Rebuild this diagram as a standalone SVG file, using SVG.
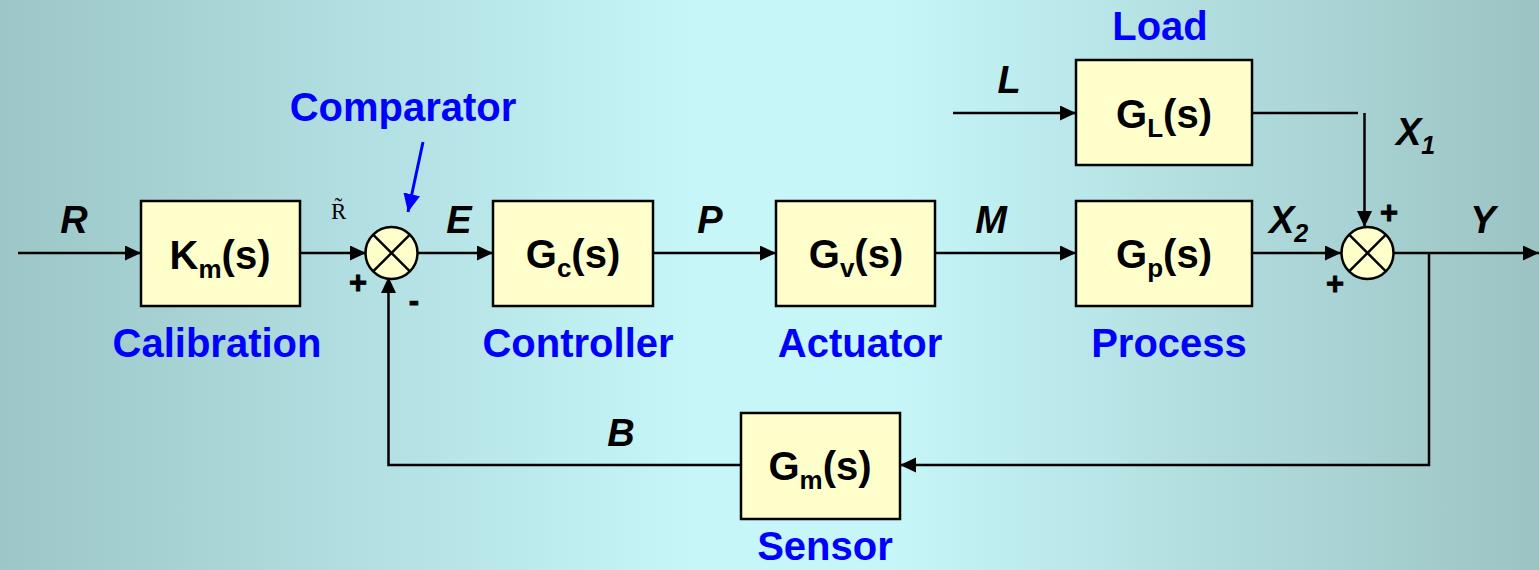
<svg xmlns="http://www.w3.org/2000/svg" width="1539" height="570" viewBox="0 0 1539 570">
<defs>
<linearGradient id="bg" x1="0" y1="0" x2="1" y2="0">
<stop offset="0" stop-color="#9cc6c8"/>
<stop offset="0.45" stop-color="#c6f6f8"/>
<stop offset="0.58" stop-color="#c6f6f8"/>
<stop offset="1" stop-color="#9cc3c4"/>
</linearGradient>
<marker id="ah" markerUnits="userSpaceOnUse" markerWidth="18" markerHeight="16" refX="16" refY="7.5" orient="auto">
<path d="M0,0 L16,7.5 L0,15 Z" fill="#000"/>
</marker>
<marker id="ahb" markerUnits="userSpaceOnUse" markerWidth="20" markerHeight="18" refX="18" refY="8.5" orient="auto">
<path d="M0,0 L18,8.5 L0,17 Z" fill="#0000ff"/>
</marker>
<style>
.box{fill:#ffffcc;stroke:#000;stroke-width:2.5}
.sum{fill:#ffffcc;stroke:#000;stroke-width:2.5}
.x{stroke:#000;stroke-width:2.5}
.ln{fill:none;stroke:#000;stroke-width:2.5}
.arr{marker-end:url(#ah)}
.bt{font-family:"Liberation Sans",Arial,sans-serif;font-weight:bold;font-size:40px;fill:#000;text-anchor:middle}
.sub{font-size:26px}
.lab{font-family:"Liberation Sans",Arial,sans-serif;font-weight:bold;font-size:40px;fill:#0000ff;text-anchor:middle}
.sig{font-family:"Liberation Sans",Arial,sans-serif;font-weight:bold;font-style:italic;font-size:38px;fill:#000}
.sig2{font-size:25px}
.pm{font-family:"Liberation Sans",Arial,sans-serif;font-weight:bold;font-size:31px;fill:#000;text-anchor:middle;stroke:#000;stroke-width:0.8}
.rt{font-family:"Liberation Serif","Times New Roman",serif;font-size:23px;fill:#000}
</style>
</defs>
<rect x="0" y="0" width="1539" height="570" fill="url(#bg)"/>

<g id="connectors">
<line class="ln arr" x1="18" y1="253" x2="141" y2="253"/>
<line class="ln arr" x1="300" y1="253" x2="366" y2="253"/>
<line class="ln arr" x1="418" y1="253" x2="493" y2="253"/>
<line class="ln arr" x1="653" y1="253" x2="776" y2="253"/>
<line class="ln arr" x1="935" y1="253" x2="1076" y2="253"/>
<line class="ln arr" x1="1252" y1="253" x2="1341" y2="253"/>
<line class="ln arr" x1="1394" y1="253" x2="1539" y2="253"/>
<line class="ln arr" x1="953" y1="113" x2="1076" y2="113"/>
<line class="ln" x1="1252" y1="113" x2="1358" y2="113"/>
<line class="ln arr" x1="1364.5" y1="113" x2="1364.5" y2="227"/>
<path class="ln arr" d="M1429,253 L1429,465 L900,465"/>
<path class="ln arr" d="M741,465 L388.5,465 L388.5,277"/>
<line stroke="#0000ff" stroke-width="3" marker-end="url(#ahb)" x1="423" y1="142" x2="408" y2="212"/>
</g>

<g id="calibration">
<rect class="box" x="141" y="201" width="159" height="105"/>
<text class="bt" x="220" y="269">K<tspan class="sub" dy="9">m</tspan><tspan dy="-9">(s)</tspan></text>
<text class="lab" x="217" y="357">Calibration</text>
</g>

<g id="comparator">
<circle class="sum" cx="391.5" cy="253" r="26"/>
<line class="x" x1="373.1" y1="234.6" x2="409.9" y2="271.4"/>
<line class="x" x1="409.9" y1="234.6" x2="373.1" y2="271.4"/>
<text class="lab" x="403" y="121">Comparator</text>
<text class="pm" x="358" y="293">+</text>
<text class="pm" x="414" y="311" font-size="34">-</text>
</g>

<g id="controller">
<rect class="box" x="493" y="201" width="160" height="105"/>
<text class="bt" x="573" y="268">G<tspan class="sub" dy="9">c</tspan><tspan dy="-9">(s)</tspan></text>
<text class="lab" x="578" y="357">Controller</text>
</g>

<g id="actuator">
<rect class="box" x="776" y="201" width="159" height="105"/>
<text class="bt" x="856" y="268">G<tspan class="sub" dy="9">v</tspan><tspan dy="-9">(s)</tspan></text>
<text class="lab" x="860" y="357">Actuator</text>
</g>

<g id="process">
<rect class="box" x="1076" y="201" width="176" height="105"/>
<text class="bt" x="1164" y="268">G<tspan class="sub" dy="9">p</tspan><tspan dy="-9">(s)</tspan></text>
<text class="lab" x="1169" y="357">Process</text>
</g>

<g id="load">
<rect class="box" x="1076" y="60" width="176" height="105"/>
<text class="bt" x="1164" y="128">G<tspan class="sub" dy="9">L</tspan><tspan dy="-9">(s)</tspan></text>
<text class="lab" x="1160" y="40">Load</text>
</g>

<g id="summer">
<circle class="sum" cx="1367.5" cy="253" r="26"/>
<line class="x" x1="1349.1" y1="234.6" x2="1385.9" y2="271.4"/>
<line class="x" x1="1385.9" y1="234.6" x2="1349.1" y2="271.4"/>
<text class="pm" x="1389" y="223">+</text>
<text class="pm" x="1335" y="294">+</text>
</g>

<g id="sensor">
<rect class="box" x="741" y="413" width="159" height="106"/>
<text class="bt" x="820" y="480">G<tspan class="sub" dy="9">m</tspan><tspan dy="-9">(s)</tspan></text>
<text class="lab" x="825" y="560">Sensor</text>
</g>

<g id="signals">
<text class="sig" x="74" y="233" text-anchor="middle">R</text>
<text class="rt" x="331" y="219">R&#x303;</text>
<text class="sig" x="459" y="233" text-anchor="middle">E</text>
<text class="sig" x="710" y="233" text-anchor="middle">P</text>
<text class="sig" x="991" y="233" text-anchor="middle">M</text>
<text class="sig" x="1009" y="93" text-anchor="middle">L</text>
<text class="sig" x="621" y="446" text-anchor="middle">B</text>
<text class="sig" x="1483" y="233" text-anchor="middle">Y</text>
<text class="sig" x="1269" y="233">X<tspan class="sig2" dy="9">2</tspan></text>
<text class="sig" x="1396" y="145">X<tspan class="sig2" dy="9">1</tspan></text>
</g>
</svg>
